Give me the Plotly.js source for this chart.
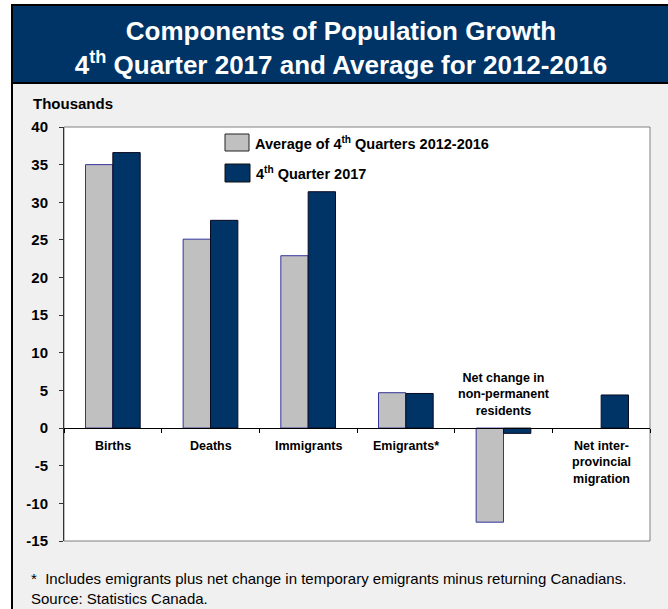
<!DOCTYPE html>
<html>
<head>
<meta charset="utf-8">
<script src="https://cdn.plot.ly/plotly-3.0.1.min.js"></script>
<style>
html,body{margin:0;padding:0;background:#fff;}
#chart{width:668px;height:609px;}
</style>
</head>
<body>
<div id="chart"></div>
<script>
// ---- data ----
const categories = ['Births', 'Deaths', 'Immigrants', 'Emigrants*', 'Net change in non-permanent residents', 'Net inter-provincial migration'];
const categoryLabels = ['Births', 'Deaths', 'Immigrants', 'Emigrants*', 'Net change in<br>non-permanent<br>residents', 'Net inter-<br>provincial<br>migration'];
const avg2012_2016 = [35.0, 25.1, 22.9, 4.7, -12.5, null];
const q4_2017 = [36.6, 27.6, 31.4, 4.6, -0.7, 4.4];
const seriesNames = ['Average of 4<sup>th</sup> Quarters 2012-2016', '4<sup>th</sup> Quarter 2017'];
const yTicks = [-15, -10, -5, 0, 5, 10, 15, 20, 25, 30, 35, 40];
const titleText = '<b>Components of Population Growth</b><br><b>4<sup>th</sup> Quarter 2017 and Average for 2012-2016</b>';
const yAxisLabel = 'Thousands';
const footnote = '*  Includes emigrants plus net change in temporary emigrants minus returning Canadians.';
const source = 'Source: Statistics Canada.';

// ---- geometry helpers (pixel -> paper) ----
const W = 668, H = 609, L = 64, R = 650, T = 127, B = 541;
const px = x => (x - L) / (R - L);
const py = y => (B - y) / (B - T);
const FONT = 'Liberation Sans, Arial, sans-serif';
const NAVY = '#003366';
const GRAY = '#c0c0c0';

const traces = [
  {
    type: 'bar', x: categories, y: avg2012_2016, name: seriesNames[0],
    marker: {color: GRAY, line: {color: '#333399', width: 1}},
    hoverinfo: 'x+y'
  },
  {
    type: 'bar', x: categories, y: q4_2017, name: seriesNames[1],
    marker: {color: NAVY, line: {color: '#0a0a20', width: 1}},
    hoverinfo: 'x+y'
  }
];

const shapes = [
  // grey panel
  {type: 'rect', xref: 'paper', yref: 'paper', x0: px(12), x1: px(672), y0: py(84), y1: py(612),
   fillcolor: '#f0f0f0', line: {width: 0}, layer: 'below'},
  // navy title box
  {type: 'rect', xref: 'paper', yref: 'paper', x0: px(12), x1: px(672), y0: py(83), y1: py(5),
   fillcolor: NAVY, line: {color: '#000', width: 2}, layer: 'below'},
  // left frame line
  {type: 'line', xref: 'paper', yref: 'paper', x0: px(12), x1: px(12), y0: py(5), y1: py(612),
   line: {color: '#000', width: 2}, layer: 'below'},
  // white plot area
  {type: 'rect', xref: 'paper', yref: 'paper', x0: 0, x1: 1, y0: 0, y1: 1,
   fillcolor: '#ffffff', line: {color: '#808080', width: 1}, layer: 'below'},
  // legend swatches
  {type: 'rect', xref: 'paper', yref: 'paper', x0: px(225), x1: px(249), y0: py(151), y1: py(134),
   fillcolor: GRAY, line: {color: '#222', width: 1}},
  {type: 'rect', xref: 'paper', yref: 'paper', x0: px(225), x1: px(250), y0: py(182), y1: py(164),
   fillcolor: NAVY, line: {color: '#111', width: 1}}
];

const annotations = [];
// category labels
categories.forEach((c, i) => {
  const above = (i === 4);
  annotations.push({
    x: c, xref: 'x', y: 0, yref: 'y',
    text: '<b>' + categoryLabels[i] + '</b>',
    showarrow: false, xanchor: 'center',
    yanchor: above ? 'bottom' : 'top',
    yshift: above ? 8 : -9,
    font: {family: FONT, size: 12.5, color: '#000'}
  });
});
// legend text
annotations.push({xref: 'paper', yref: 'paper', x: px(253), y: py(143), xanchor: 'left', yanchor: 'middle',
  text: '<b>' + seriesNames[0] + '</b>', showarrow: false, font: {family: FONT, size: 14.5, color: '#000'}});
annotations.push({xref: 'paper', yref: 'paper', x: px(254), y: py(173), xanchor: 'left', yanchor: 'middle',
  text: '<b>' + seriesNames[1] + '</b>', showarrow: false, font: {family: FONT, size: 14.5, color: '#000'}});
// axis unit label
annotations.push({xref: 'paper', yref: 'paper', x: px(31), y: py(104), xanchor: 'left', yanchor: 'middle',
  text: '<b>' + yAxisLabel + '</b>', showarrow: false, font: {family: FONT, size: 15, color: '#000'}});
// footnotes
annotations.push({xref: 'paper', yref: 'paper', x: px(29), y: py(578), xanchor: 'left', yanchor: 'middle',
  text: footnote, showarrow: false, font: {family: FONT, size: 15, color: '#000'}});
annotations.push({xref: 'paper', yref: 'paper', x: px(29), y: py(598), xanchor: 'left', yanchor: 'middle',
  text: source, showarrow: false, font: {family: FONT, size: 15, color: '#000'}});

const layout = {
  width: W, height: H,
  margin: {l: L, r: W - R, t: T, b: H - B, pad: 0},
  paper_bgcolor: '#ffffff',
  plot_bgcolor: 'rgba(0,0,0,0)',
  showlegend: false,
  barmode: 'group',
  bargap: 0.44,
  bargroupgap: 0,
  title: {
    text: titleText,
    font: {family: FONT, size: 26, color: '#ffffff'},
    xref: 'container', x: 341 / W, xanchor: 'center',
    yref: 'container', y: 1 - 40 / H, yanchor: 'middle'
  },
  xaxis: {
    type: 'category',
    anchor: 'free', position: 15 / 55,
    showline: true, linecolor: '#000', linewidth: 1,
    ticks: 'outside', tickson: 'boundaries', ticklen: 4, tickcolor: '#000', tickwidth: 1,
    showticklabels: false, showgrid: false, zeroline: false,
    fixedrange: true
  },
  yaxis: {
    range: [-15, 40],
    tickvals: yTicks, ticktext: yTicks.map(String),
    showline: true, linecolor: '#333', linewidth: 1,
    ticks: 'outside', ticklen: 4, tickcolor: '#333',
    ticklabelstandoff: 8,
    tickfont: {family: FONT, size: 15, color: '#000', weight: 'bold'},
    showgrid: false, zeroline: false,
    fixedrange: true
  },
  shapes: shapes,
  annotations: annotations
};

Plotly.newPlot('chart', traces, layout, {displayModeBar: false, staticPlot: true});
</script>
</body>
</html>
